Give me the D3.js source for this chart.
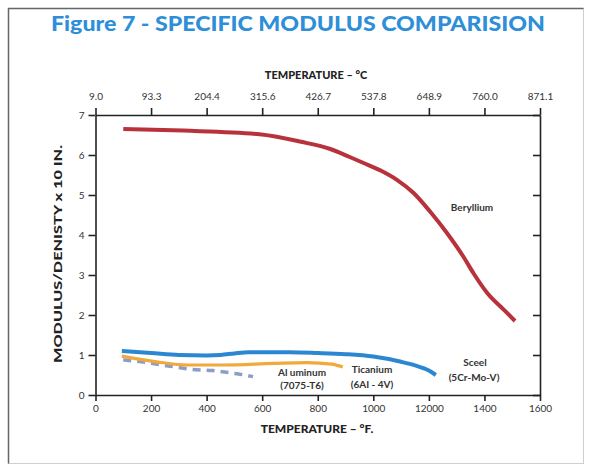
<!DOCTYPE html>
<html><head><meta charset="utf-8">
<script src="https://cdn.jsdelivr.net/npm/d3@7"></script>
<style>html,body{margin:0;padding:0;background:#fff;}svg{display:block;}</style>
</head><body>
<script>
const W = 592, H = 469;
const fTicks = [0, 200, 400, 600, 800, 1000, 1200, 1400, 1600];
const fTickLabels = ["0", "200", "400", "600", "800", "1000", "12000", "1400", "1600"];
const cTickLabels = ["9.0", "93.3", "204.4", "315.6", "426.7", "537.8", "648.9", "760.0", "871.1"];
const yTicks = [0, 1, 2, 3, 4, 5, 6, 7];

const berylliumF = [100, 315, 590, 740, 845, 915, 965, 1030, 1085, 1145, 1205, 1265, 1325, 1360, 1410, 1470, 1510];
const berylliumV = [6.65, 6.61, 6.52, 6.33, 6.15, 5.95, 5.8, 5.6, 5.38, 5.05, 4.58, 4.05, 3.45, 3.05, 2.55, 2.13, 1.85];
const steelF = [95, 200, 300, 400, 450, 500, 550, 700, 800, 900, 1000, 1100, 1150, 1200, 1225];
const steelV = [1.1, 1.05, 1.0, 0.99, 1.0, 1.04, 1.07, 1.07, 1.05, 1.02, 0.96, 0.83, 0.74, 0.61, 0.5];
const titaniumF = [95, 220, 330, 460, 640, 760, 850, 890];
const titaniumV = [0.97, 0.83, 0.75, 0.75, 0.79, 0.81, 0.77, 0.7];
const aluminumF = [100, 185, 268, 347, 423, 502, 567];
const aluminumV = [0.88, 0.81, 0.72, 0.64, 0.61, 0.54, 0.46];

const svg = d3.select("body").append("svg").attr("width", W).attr("height", H);
svg.append("rect").attr("width", W).attr("height", H).attr("fill", "#fff");

// frame
svg.append("rect").attr("x", 8.5).attr("y", 8.5).attr("width", 575).attr("height", 455)
  .attr("fill", "none").attr("stroke", "#cfcfcf").attr("stroke-width", 1);
svg.append("path").attr("d", "M8.5,463.5V8.5H583.5").attr("fill", "none").attr("stroke", "#666").attr("stroke-width", 1.5);

// title
svg.append("text").attr("x", 51).attr("y", 31)
  .attr("font-family", "Lato, 'Open Sans', sans-serif").attr("font-weight", 900)
  .attr("font-size", 20).attr("fill", "#2e8fd8")
  .attr("textLength", 494).attr("lengthAdjust", "spacingAndGlyphs")
  .text("Figure 7 - SPECIFIC MODULUS COMPARISION");

const x = d3.scaleLinear().domain([0, 1600]).range([95.5, 540]);
const y = d3.scaleLinear().domain([0, 7]).range([395, 115]);

const font = "Lato, 'Open Sans', sans-serif";
function styleAxis(g) {
  g.select(".domain").attr("stroke", "#222").attr("stroke-width", 1.6);
  g.selectAll(".tick line").attr("stroke", "#222").attr("stroke-width", 1.6);
  g.selectAll(".tick text").attr("font-family", font).attr("font-size", 10).attr("fill", "#333");
}

// bottom
const gB = svg.append("g").attr("transform", `translate(0,${y(0)})`)
  .call(d3.axisBottom(x).tickValues(fTicks).tickSize(6).tickSizeOuter(0).tickPadding(4)
    .tickFormat((d, i) => fTickLabels[i]));
styleAxis(gB);
// top
const gT = svg.append("g").attr("transform", `translate(0,${y(7)})`)
  .call(d3.axisTop(x).tickValues(fTicks).tickSize(7).tickSizeOuter(0).tickPadding(8)
    .tickFormat((d, i) => cTickLabels[i]));
styleAxis(gT);
// left
const gL = svg.append("g").attr("transform", `translate(${x(0)},0)`)
  .call(d3.axisLeft(y).tickValues(yTicks).tickSize(7).tickSizeOuter(0).tickPadding(4).tickFormat(d3.format("d")));
styleAxis(gL);
// right (ticks inward)
const gR = svg.append("g").attr("transform", `translate(${x(1600)},0)`)
  .call(d3.axisLeft(y).tickValues(yTicks).tickSize(7).tickSizeOuter(0).tickFormat(""));
styleAxis(gR);

// axis titles
svg.append("text").attr("x", 316).attr("y", 79).attr("text-anchor", "middle")
  .attr("font-family", font).attr("font-weight", 900).attr("font-size", 11).attr("fill", "#222")
  .text("TEMPERATURE – °C");
svg.append("text").attr("x", 317).attr("y", 433).attr("text-anchor", "middle")
  .attr("font-family", font).attr("font-weight", 900).attr("font-size", 12).attr("fill", "#222")
  .text("TEMPERATURE – °F.");
svg.append("text").attr("transform", "translate(62,254) rotate(-90)").attr("text-anchor", "middle")
  .attr("font-family", font).attr("font-weight", 900).attr("font-size", 11).attr("fill", "#222")
  .attr("textLength", 218).attr("lengthAdjust", "spacingAndGlyphs")
  .text("MODULUS/DENISTY x 10 IN.");

const line = d3.line().x(d => x(d[0])).y(d => y(d[1])).curve(d3.curveMonotoneX);
const zip = (a, b) => a.map((v, i) => [v, b[i]]);

svg.append("path").attr("d", line(zip(aluminumF, aluminumV))).attr("fill", "none")
  .attr("stroke", "#8e9cc9").attr("stroke-width", 3.5).attr("stroke-dasharray", "8,6");
svg.append("path").attr("d", line(zip(titaniumF, titaniumV))).attr("fill", "none")
  .attr("stroke", "#f2a93b").attr("stroke-width", 3.2);
svg.append("path").attr("d", line(zip(steelF, steelV))).attr("fill", "none")
  .attr("stroke", "#2b87d1").attr("stroke-width", 4);
svg.append("path").attr("d", line(zip(berylliumF, berylliumV))).attr("fill", "none")
  .attr("stroke", "#b8323c").attr("stroke-width", 4);

// labels
function label(t, cx, by) {
  svg.append("text").attr("x", cx).attr("y", by).attr("text-anchor", "middle")
    .attr("font-family", font).attr("font-weight", 700).attr("font-size", 10).attr("fill", "#333").text(t);
}
label("Beryllium", 472, 211);
label("Al uminum", 302, 376);
label("(7075-T6)", 302, 389);
label("Ticanium", 372, 373);
label("(6AI - 4V)", 372, 388);
label("Sceel", 475, 366);
label("(5Cr-Mo-V)", 474, 381);
</script>
</body></html>
